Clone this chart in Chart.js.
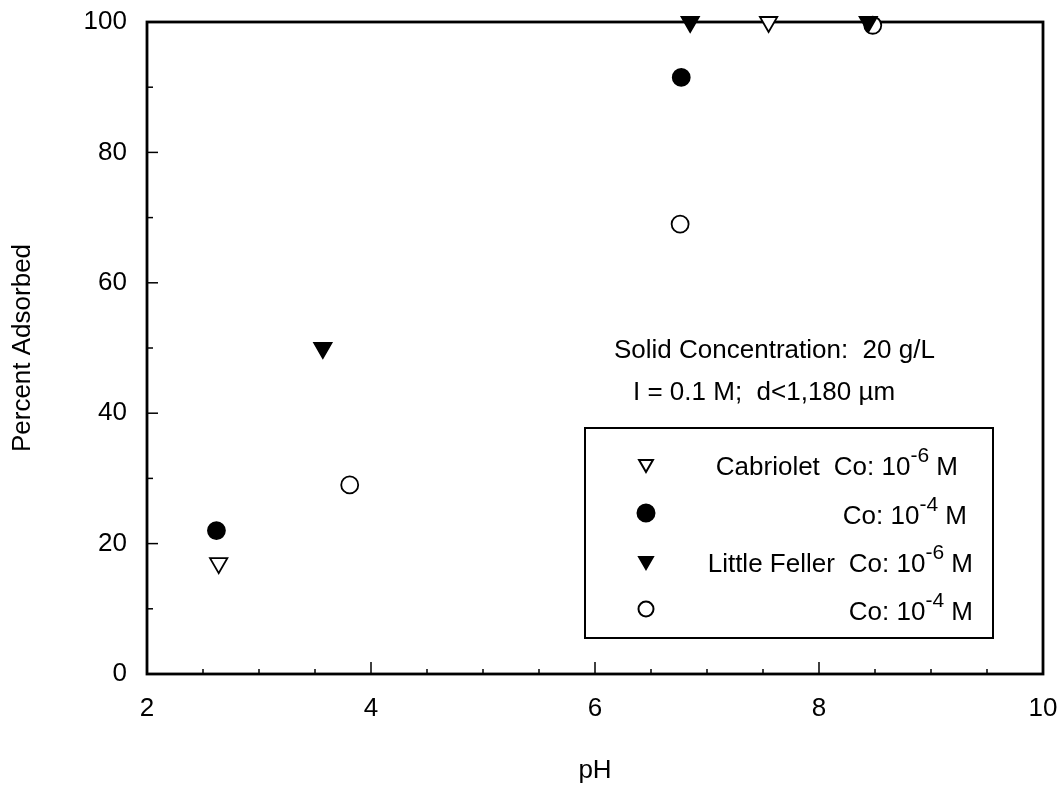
<!DOCTYPE html>
<html>
<head>
<meta charset="utf-8">
<script src="https://cdn.jsdelivr.net/npm/chart.js@4"></script>
<style>
  html, body { margin: 0; padding: 0; background: #fff; }
  #wrap { width: 1062px; height: 786px; }
</style>
</head>
<body>
<div id="wrap"><canvas id="adsChart"></canvas></div>
<script>
const xTicks = [2, 4, 6, 8, 10];
const yTicks = [0, 20, 40, 60, 80, 100];

// Cabriolet / Little Feller, Co 1e-6 and 1e-4 M
const cabLowPH = [2.64, 7.55];
const cabLowVal = [17, 100];
const cabHighPH = [2.62, 6.77];
const cabHighVal = [22, 91.5];
const lfLowPH = [3.57, 6.85, 8.44];
const lfLowVal = [50, 100, 100];
const lfHighPH = [3.81, 6.76, 8.48];
const lfHighVal = [29, 69, 99.5];

const seriesNames = ["Cabriolet", "", "Little Feller", ""];
const seriesExp = ["-6", "-4", "-6", "-4"];
const noteLines = ["Solid Concentration:  20 g/L", "I = 0.1 M;  d<1,180 \u00b5m"];

const FONT = "Arial, 'Liberation Sans', Helvetica, sans-serif";
const FS = 26;
Chart.defaults.font.family = FONT;
Chart.defaults.color = "#000";

function toPoints(xs, ys) {
  return xs.map((x, i) => ({ x: x, y: ys[i] }));
}

// inward ticks + box round the plot
const framePlugin = {
  id: "frame",
  beforeDatasetsDraw(chart) {
    const ctx = chart.ctx;
    const a = chart.chartArea;
    const xs = chart.scales.x, ys = chart.scales.y;
    ctx.save();
    ctx.strokeStyle = "#000";
    ctx.lineWidth = 1.5;
    for (let v = 2; v <= 10.001; v += 0.5) {
      const px = xs.getPixelForValue(v);
      const len = xTicks.includes(v) ? 12 : 5;
      ctx.beginPath();
      ctx.moveTo(px, a.bottom);
      ctx.lineTo(px, a.bottom - len);
      ctx.stroke();
    }
    for (let v = 0; v <= 100; v += 10) {
      const py = ys.getPixelForValue(v);
      const len = yTicks.includes(v) ? 11 : 6;
      ctx.beginPath();
      ctx.moveTo(a.left, py);
      ctx.lineTo(a.left + len, py);
      ctx.stroke();
    }
    ctx.lineWidth = 2.8;
    ctx.strokeRect(a.left, a.top, a.right - a.left, a.bottom - a.top);
    ctx.restore();
  }
};

function drawCo(ctx, rightX, y, exp) {
  // "Co: 10^exp M", right aligned at rightX
  const big = FS + "px " + FONT, small = "21px " + FONT;
  ctx.font = big;
  const w1 = ctx.measureText("Co: 10").width;
  const w3 = ctx.measureText(" M").width;
  ctx.font = small;
  const w2 = ctx.measureText(exp).width;
  let x = rightX - (w1 + w2 + w3);
  ctx.textAlign = "left";
  ctx.textBaseline = "middle";
  ctx.font = big;
  ctx.fillText("Co: 10", x, y);
  x += w1;
  ctx.font = small;
  ctx.fillText(exp, x, y - 12);
  x += w2;
  ctx.font = big;
  ctx.fillText(" M", x, y);
  return rightX - (w1 + w2 + w3);
}

const legendPlugin = {
  id: "boxLegend",
  afterDatasetsDraw(chart) {
    const ctx = chart.ctx;
    ctx.save();
    ctx.fillStyle = "#000";
    ctx.font = FS + "px " + FONT;
    ctx.textBaseline = "middle";
    ctx.textAlign = "left";
    ctx.fillText(noteLines[0], 614, 351);
    ctx.fillText(noteLines[1], 633, 393);

    ctx.strokeStyle = "#000";
    ctx.lineWidth = 2;
    ctx.strokeRect(585, 428, 408, 210);

    const rowY = [468, 517, 565, 613];
    const rightX = [958, 967, 973, 973];
    chart.data.datasets.forEach((ds, i) => {
      ctx.fillStyle = ds.backgroundColor;
      ctx.strokeStyle = ds.borderColor;
      Chart.helpers.drawPoint(ctx, {
        pointStyle: ds.pointStyle,
        radius: ds.pointStyle === "triangle" ? 8 : (i === 1 ? 8.5 : 7.5),
        rotation: ds.pointRotation || 0,
        borderWidth: ds.pointBorderWidth
      }, 646, rowY[i] - 4);
      ctx.fillStyle = "#000";
      const start = drawCo(ctx, rightX[i], rowY[i], seriesExp[i]);
      if (seriesNames[i]) {
        ctx.font = FS + "px " + FONT;
        ctx.textAlign = "right";
        ctx.fillText(seriesNames[i], start - 14, rowY[i]);
      }
    });
    ctx.restore();
  }
};

function makeSet(label, xs, ys, style, fill, rot) {
  return {
    label: label,
    data: toPoints(xs, ys),
    pointStyle: style,
    pointRotation: rot,
    backgroundColor: fill,
    borderColor: "#000",
    pointBorderWidth: 1.8,
    pointRadius: style === "triangle" ? 10 : 8.5,
    showLine: false,
    clip: false
  };
}

new Chart(document.getElementById("adsChart"), {
  type: "scatter",
  data: {
    datasets: [
      makeSet("Cabriolet Co: 10-6 M", cabLowPH, cabLowVal, "triangle", "#fff", 180),
      makeSet("Cabriolet Co: 10-4 M", cabHighPH, cabHighVal, "circle", "#000", 0),
      makeSet("Little Feller Co: 10-6 M", lfLowPH, lfLowVal, "triangle", "#000", 180),
      makeSet("Little Feller Co: 10-4 M", lfHighPH, lfHighVal, "circle", "#fff", 0)
    ]
  },
  options: {
    responsive: true,
    maintainAspectRatio: false,
    animation: false,
    layout: { padding: { top: 22, right: 19, left: 0, bottom: 0 } },
    plugins: { legend: { display: false }, tooltip: { enabled: false } },
    scales: {
      x: {
        type: "linear",
        min: 2,
        max: 10,
        afterBuildTicks: (s) => { s.ticks = xTicks.map(v => ({ value: v })); },
        afterFit: (s) => { s.height = 112; s.paddingLeft = 0; s.paddingRight = 0; },
        grid: { display: false, drawTicks: false },
        border: { display: false },
        ticks: { font: { size: FS }, padding: 19 },
        title: { display: true, text: "pH", font: { size: FS }, padding: { top: 0, bottom: 0 } }
      },
      y: {
        type: "linear",
        min: 0,
        max: 100,
        afterBuildTicks: (s) => { s.ticks = yTicks.map(v => ({ value: v })); },
        afterFit: (s) => { s.width = 147; s.paddingTop = 0; s.paddingBottom = 0; },
        grid: { display: false, drawTicks: false },
        border: { display: false },
        ticks: { font: { size: FS }, padding: 20 },
        title: { display: true, text: "Percent Adsorbed", font: { size: FS }, padding: { top: 7, bottom: 0 } }
      }
    }
  },
  plugins: [framePlugin, legendPlugin]
});
</script>
</body>
</html>
